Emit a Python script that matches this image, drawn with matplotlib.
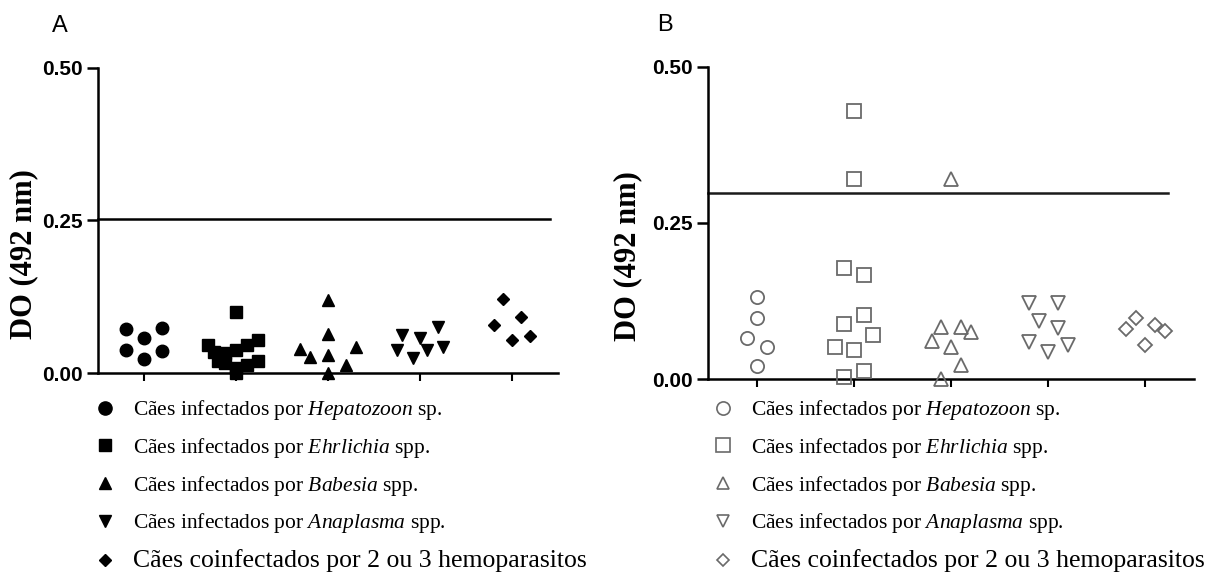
import matplotlib
matplotlib.use("Agg")
import matplotlib.pyplot as plt
from matplotlib.lines import Line2D

plt.rcParams["font.family"] = ["Liberation Serif", "DejaVu Serif"]
plt.rcParams["mathtext.fontset"] = "custom"
plt.rcParams["mathtext.rm"] = "Liberation Serif"
plt.rcParams["mathtext.it"] = "Liberation Serif:italic"

# ── Data ──────────────────────────────────────────────────────────────────────
groups = ["Hepatozoon", "Ehrlichia", "Babesia", "Anaplasma", "Coinfectados"]
legend_labels = [
    r"Cães infectados por $\mathit{Hepatozoon}$ sp.",
    r"Cães infectados por $\mathit{Ehrlichia}$ spp.",
    r"Cães infectados por $\mathit{Babesia}$ spp.",
    r"Cães infectados por $\mathit{Anaplasma}$ spp.",
    "Cães coinfectados por 2 ou 3 hemoparasitos",
]
markers = ["o", "s", "^", "v", "D"]

# panel A: OD values and horizontal scatter offsets
a_hep = [0.072, 0.058, 0.073, 0.037, 0.023, 0.036]
a_hep_dx = [-0.2, 0.0, 0.2, -0.2, 0.0, 0.2]
a_ehr = [0.046, 0.035, 0.033, 0.038, 0.046, 0.054, 0.016, 0.008, 0.013, 0.019, 0.0, 0.019, 0.100]
a_ehr_dx = [-0.3, -0.24, -0.12, 0.0, 0.12, 0.24, -0.12, 0.0, 0.12, 0.24, 0.0, -0.2, 0.0]
a_bab = [0.119, 0.064, 0.040, 0.026, 0.030, 0.043, 0.013, 0.0]
a_bab_dx = [0.0, 0.0, -0.3, -0.2, 0.0, 0.3, 0.2, 0.0]
a_ana = [0.062, 0.057, 0.076, 0.038, 0.024, 0.038, 0.043]
a_ana_dx = [-0.2, 0.0, 0.2, -0.25, -0.08, 0.08, 0.25]
a_coi = [0.121, 0.092, 0.079, 0.061, 0.054]
a_coi_dx = [-0.1, 0.1, -0.2, 0.2, 0.0]
a_cutoff = 0.253

# panel B
b_hep = [0.132, 0.098, 0.065, 0.052, 0.021]
b_hep_dx = [0.0, 0.0, -0.1, 0.1, 0.0]
b_ehr = [0.429, 0.320, 0.177, 0.167, 0.102, 0.088, 0.071, 0.052, 0.047, 0.013, 0.004]
b_ehr_dx = [0.0, 0.0, -0.1, 0.1, 0.1, -0.1, 0.2, -0.2, 0.0, 0.1, -0.1]
b_bab = [0.320, 0.084, 0.084, 0.076, 0.061, 0.052, 0.022, 0.0]
b_bab_dx = [0.0, -0.1, 0.1, 0.2, -0.2, 0.0, 0.1, -0.1]
b_ana = [0.122, 0.122, 0.093, 0.081, 0.060, 0.054, 0.044]
b_ana_dx = [-0.2, 0.1, -0.1, 0.1, -0.2, 0.2, 0.0]
b_coi = [0.097, 0.086, 0.080, 0.077, 0.054]
b_coi_dx = [-0.1, 0.1, -0.2, 0.2, 0.0]
b_cutoff = 0.298

a_values = [a_hep, a_ehr, a_bab, a_ana, a_coi]
a_offsets = [a_hep_dx, a_ehr_dx, a_bab_dx, a_ana_dx, a_coi_dx]
b_values = [b_hep, b_ehr, b_bab, b_ana, b_coi]
b_offsets = [b_hep_dx, b_ehr_dx, b_bab_dx, b_ana_dx, b_coi_dx]

GRAY = "#6a6a6a"

fig = plt.figure(figsize=(12.12, 5.72), dpi=100)
axA = fig.add_axes([0.0809, 0.3479, 0.3795, 0.5337])
axB = fig.add_axes([0.5844, 0.3374, 0.4007, 0.5460])


def style_axis(ax):
    ax.set_xlim(0.5, 5.5)
    ax.set_ylim(0, 0.5)
    for side in ("top", "right"):
        ax.spines[side].set_visible(False)
    for side in ("left", "bottom"):
        ax.spines[side].set_linewidth(1.8)
    ax.set_yticks([0.0, 0.25, 0.5])
    ax.set_yticklabels(["0.00", "0.25", "0.50"], family="Liberation Sans",
                       fontweight="bold", fontsize=15)
    ax.set_xticks(range(1, 6))
    ax.set_xticklabels([])
    ax.tick_params(axis="y", length=8, width=1.8, pad=3)
    ax.tick_params(axis="x", length=6, width=1.5)


for ax in (axA, axB):
    style_axis(ax)

# panel A: filled black markers
a_sizes = [9, 8.6, 9, 9, 6.3]
for i, (vals, dxs) in enumerate(zip(a_values, a_offsets)):
    xs = [i + 1 + d for d in dxs]
    axA.plot(xs, vals, linestyle="none", marker=markers[i], markersize=a_sizes[i],
             color="black", clip_on=False, zorder=3)
axA.plot([0.5, 5.41], [a_cutoff, a_cutoff], color="black", linewidth=1.8, clip_on=False)

# panel B: open gray markers
b_sizes = [9.5, 10, 9.5, 9.5, 6.8]
for i, (vals, dxs) in enumerate(zip(b_values, b_offsets)):
    xs = [i + 1 + d for d in dxs]
    axB.plot(xs, vals, linestyle="none", marker=markers[i], markersize=b_sizes[i],
             markerfacecolor="none", markeredgecolor=GRAY, markeredgewidth=1.3,
             clip_on=False, zorder=3)
axB.plot([0.5, 5.23], [b_cutoff, b_cutoff], color="#1a1a1a", linewidth=1.8, clip_on=False)

# y labels and panel letters
fig.text(0.0195, 0.555, "DO (492 nm)", rotation=90, ha="center", va="center",
         fontsize=22, fontweight="bold")
fig.text(0.518, 0.552, "DO (492 nm)", rotation=90, ha="center", va="center",
         fontsize=22, fontweight="bold")
fig.text(0.0495, 0.955, "A", family="Liberation Sans", fontsize=17, ha="center", va="center")
fig.text(0.549, 0.957, "B", family="Liberation Sans", fontsize=17, ha="center", va="center")

# legends
leg_sizes_a = [9.5, 8, 8, 8, 6]
handles_a = [Line2D([], [], linestyle="none", marker=m, markersize=s, color="black")
             for m, s in zip(markers, leg_sizes_a)]
leg_sizes_b = [9.5, 9.5, 8.5, 8.5, 6.5]
handles_b = [Line2D([], [], linestyle="none", marker=m, markersize=s,
                    markerfacecolor="none", markeredgecolor=GRAY, markeredgewidth=1.2)
             for m, s in zip(markers, leg_sizes_b)]

for handles, x0 in ((handles_a, 0.0776), (handles_b, 0.5874)):
    leg = fig.legend(handles, legend_labels, loc="upper left", bbox_to_anchor=(x0, 0.304),
                     frameon=False, fontsize=15.5, handlelength=1.0, handletextpad=0.8,
                     labelspacing=0.64, borderpad=0, borderaxespad=0)
    # the last entry is set in a larger type in the original figure
    leg.get_texts()[-1].set_fontsize(18.5)

fig.savefig("out.png", dpi=100)
